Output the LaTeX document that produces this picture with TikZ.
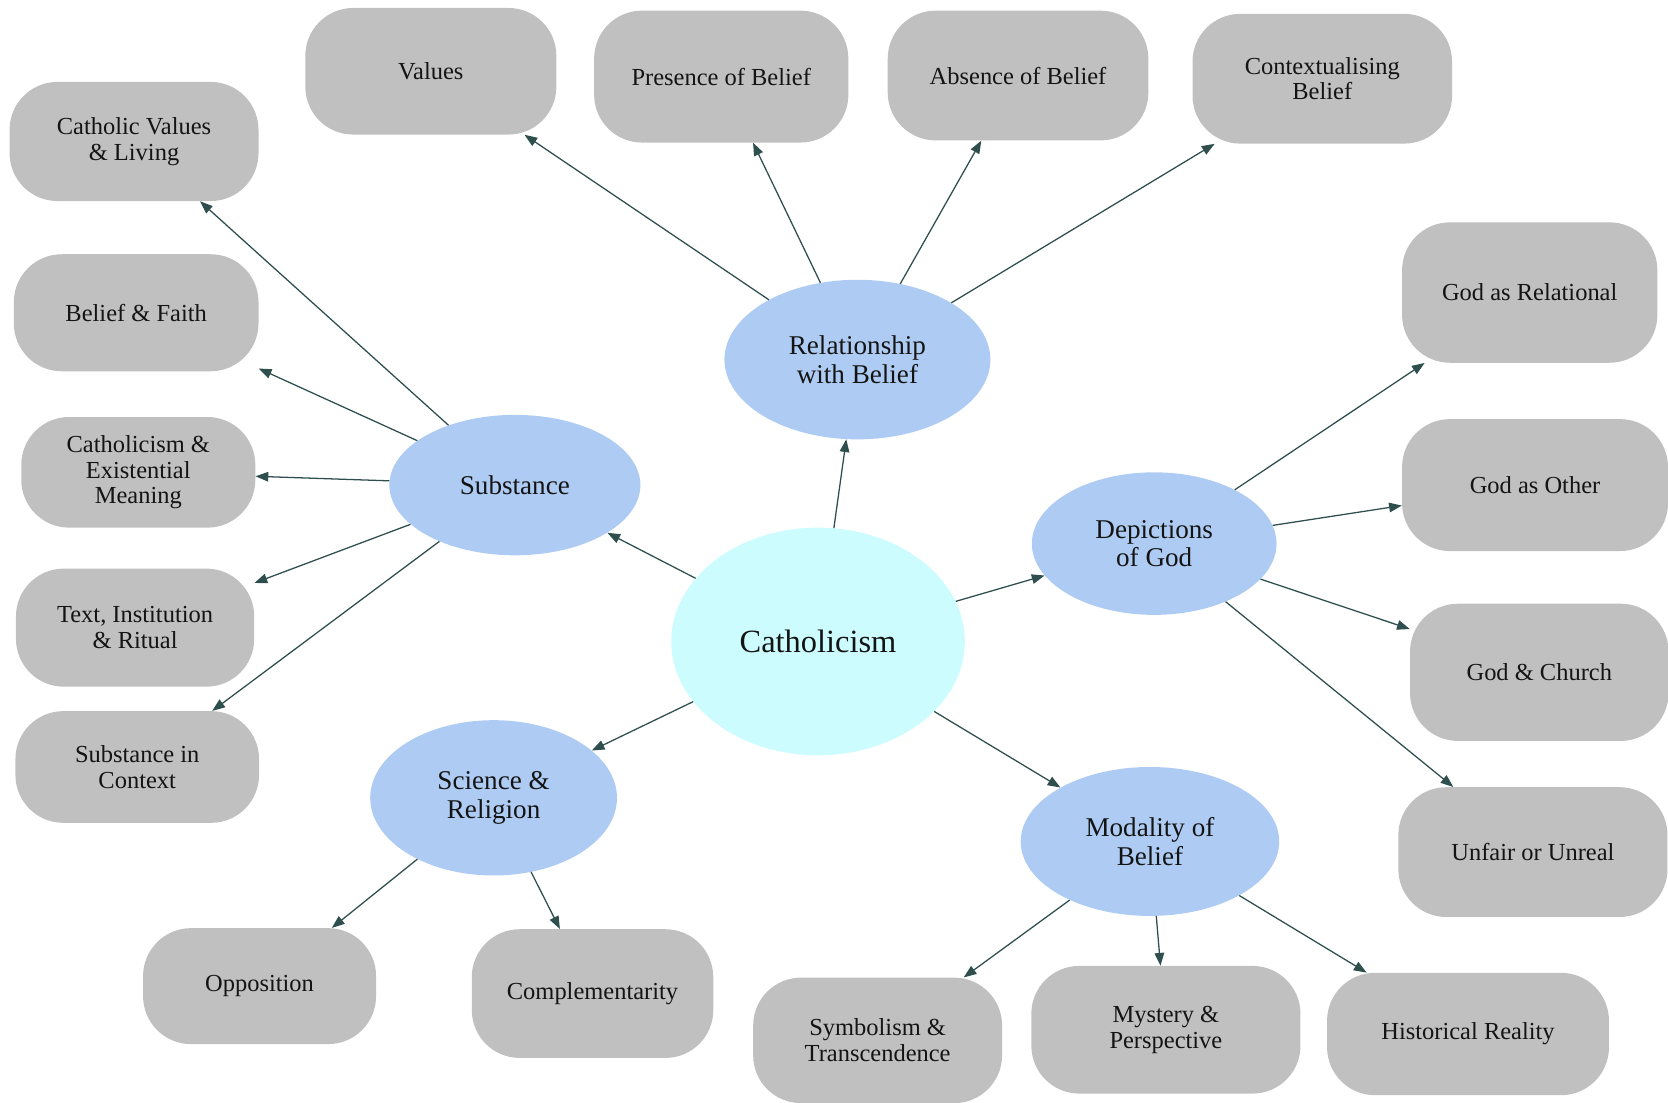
\documentclass[tikz,border=0pt]{standalone}
\usepackage{fontspec}
\newfontfamily\mapfont{Liberation Serif}
\usetikzlibrary{arrows.meta,shapes.geometric}
\definecolor{boxgray}{RGB}{192,192,192}
\definecolor{topicblue}{RGB}{174,204,243}
\definecolor{hubcyan}{RGB}{204,252,253}
\definecolor{arrowslate}{RGB}{47,79,79}
\definecolor{inkdark}{RGB}{20,20,20}
\begin{document}
\begin{tikzpicture}[x=1pt,y=-1pt,
  leaf/.style={fill=boxgray, rounded corners=45pt, align=center, inner sep=0pt,
    text=inkdark, font=\mapfont\fontsize{23}{24}\selectfont},
  topic/.style={ellipse, fill=topicblue, align=center, inner sep=0pt,
    text=inkdark, font=\mapfont\fontsize{25.5}{27}\selectfont},
  link/.style={-{Triangle[length=12pt,width=9pt]}, line width=1.2pt, draw=arrowslate}]

\useasboundingbox (0,0) rectangle (1568,1036);

% centre and topics
\node[topic, fill=hubcyan, minimum width=276pt, minimum height=214pt,
  font=\mapfont\fontsize{30.5}{32}\selectfont] (cath) at (769,603) {Catholicism};
\node[topic, minimum width=250pt, minimum height=150pt] (rel) at (806,338) {Relationship\\with Belief};
\node[topic, minimum width=236pt, minimum height=132pt] (sub) at (484,456) {Substance};
\node[topic, minimum width=230pt, minimum height=134pt] (dep) at (1085,511) {Depictions\\of God};
\node[topic, minimum width=232pt, minimum height=146pt] (sci) at (464,750) {Science \&\\Religion};
\node[topic, minimum width=243pt, minimum height=140pt] (mod) at (1081,791) {Modality of\\Belief};

% top row
\node[leaf, minimum width=236pt, minimum height=119pt] (val) at (405,67) {Values};
\node[leaf, minimum width=239pt, minimum height=124pt] (pres) at (678,72) {Presence of Belief};
\node[leaf, minimum width=245pt, minimum height=122pt] (abs) at (957,71) {Absence of Belief};
\node[leaf, minimum width=244pt, minimum height=122pt] (ctx) at (1243,74) {Contextualising\\Belief};

% left column
\node[leaf, minimum width=234pt, minimum height=112pt] (cvl) at (126,133) {Catholic Values\\\& Living};
\node[leaf, minimum width=230pt, minimum height=110pt] (bf) at (128,294) {Belief \& Faith};
\node[leaf, minimum width=220pt, minimum height=104pt] (cem) at (130,444) {Catholicism \&\\Existential\\Meaning};
\node[leaf, minimum width=224pt, minimum height=111pt] (tir) at (127,590) {Text, Institution\\\& Ritual};
\node[leaf, minimum width=229pt, minimum height=105pt] (sic) at (129,721) {Substance in\\Context};

% right column
\node[leaf, minimum width=240pt, minimum height=132pt] (grel) at (1438,275) {God as Relational};
\node[leaf, minimum width=250pt, minimum height=124pt] (goth) at (1443,456) {God as Other};
\node[leaf, minimum width=243pt, minimum height=129pt] (gch) at (1447,632) {God \& Church};
\node[leaf, minimum width=253pt, minimum height=122pt] (unf) at (1441,801) {Unfair or Unreal};

% bottom row
\node[leaf, minimum width=219pt, minimum height=109pt] (opp) at (244,927) {Opposition};
\node[leaf, minimum width=227pt, minimum height=121pt] (comp) at (557,934) {Complementarity};
\node[leaf, minimum width=234pt, minimum height=118pt] (sym) at (825,978) {Symbolism \&\\Transcendence};
\node[leaf, minimum width=253pt, minimum height=120pt] (mys) at (1096,968) {Mystery \&\\Perspective};
\node[leaf, minimum width=265pt, minimum height=115pt] (hist) at (1380,972) {Historical Reality};

% connectors
\foreach \a/\b in {cath/rel,cath/sub,cath/dep,cath/sci,cath/mod,
  rel/val,rel/pres,rel/abs,rel/ctx,
  sub/cvl,sub/bf,sub/cem,sub/tir,sub/sic,
  dep/grel,dep/goth,dep/gch,dep/unf,
  sci/opp,sci/comp,
  mod/sym,mod/mys,mod/hist}
  \draw[link] (\a) -- (\b);

\end{tikzpicture}
\end{document}
